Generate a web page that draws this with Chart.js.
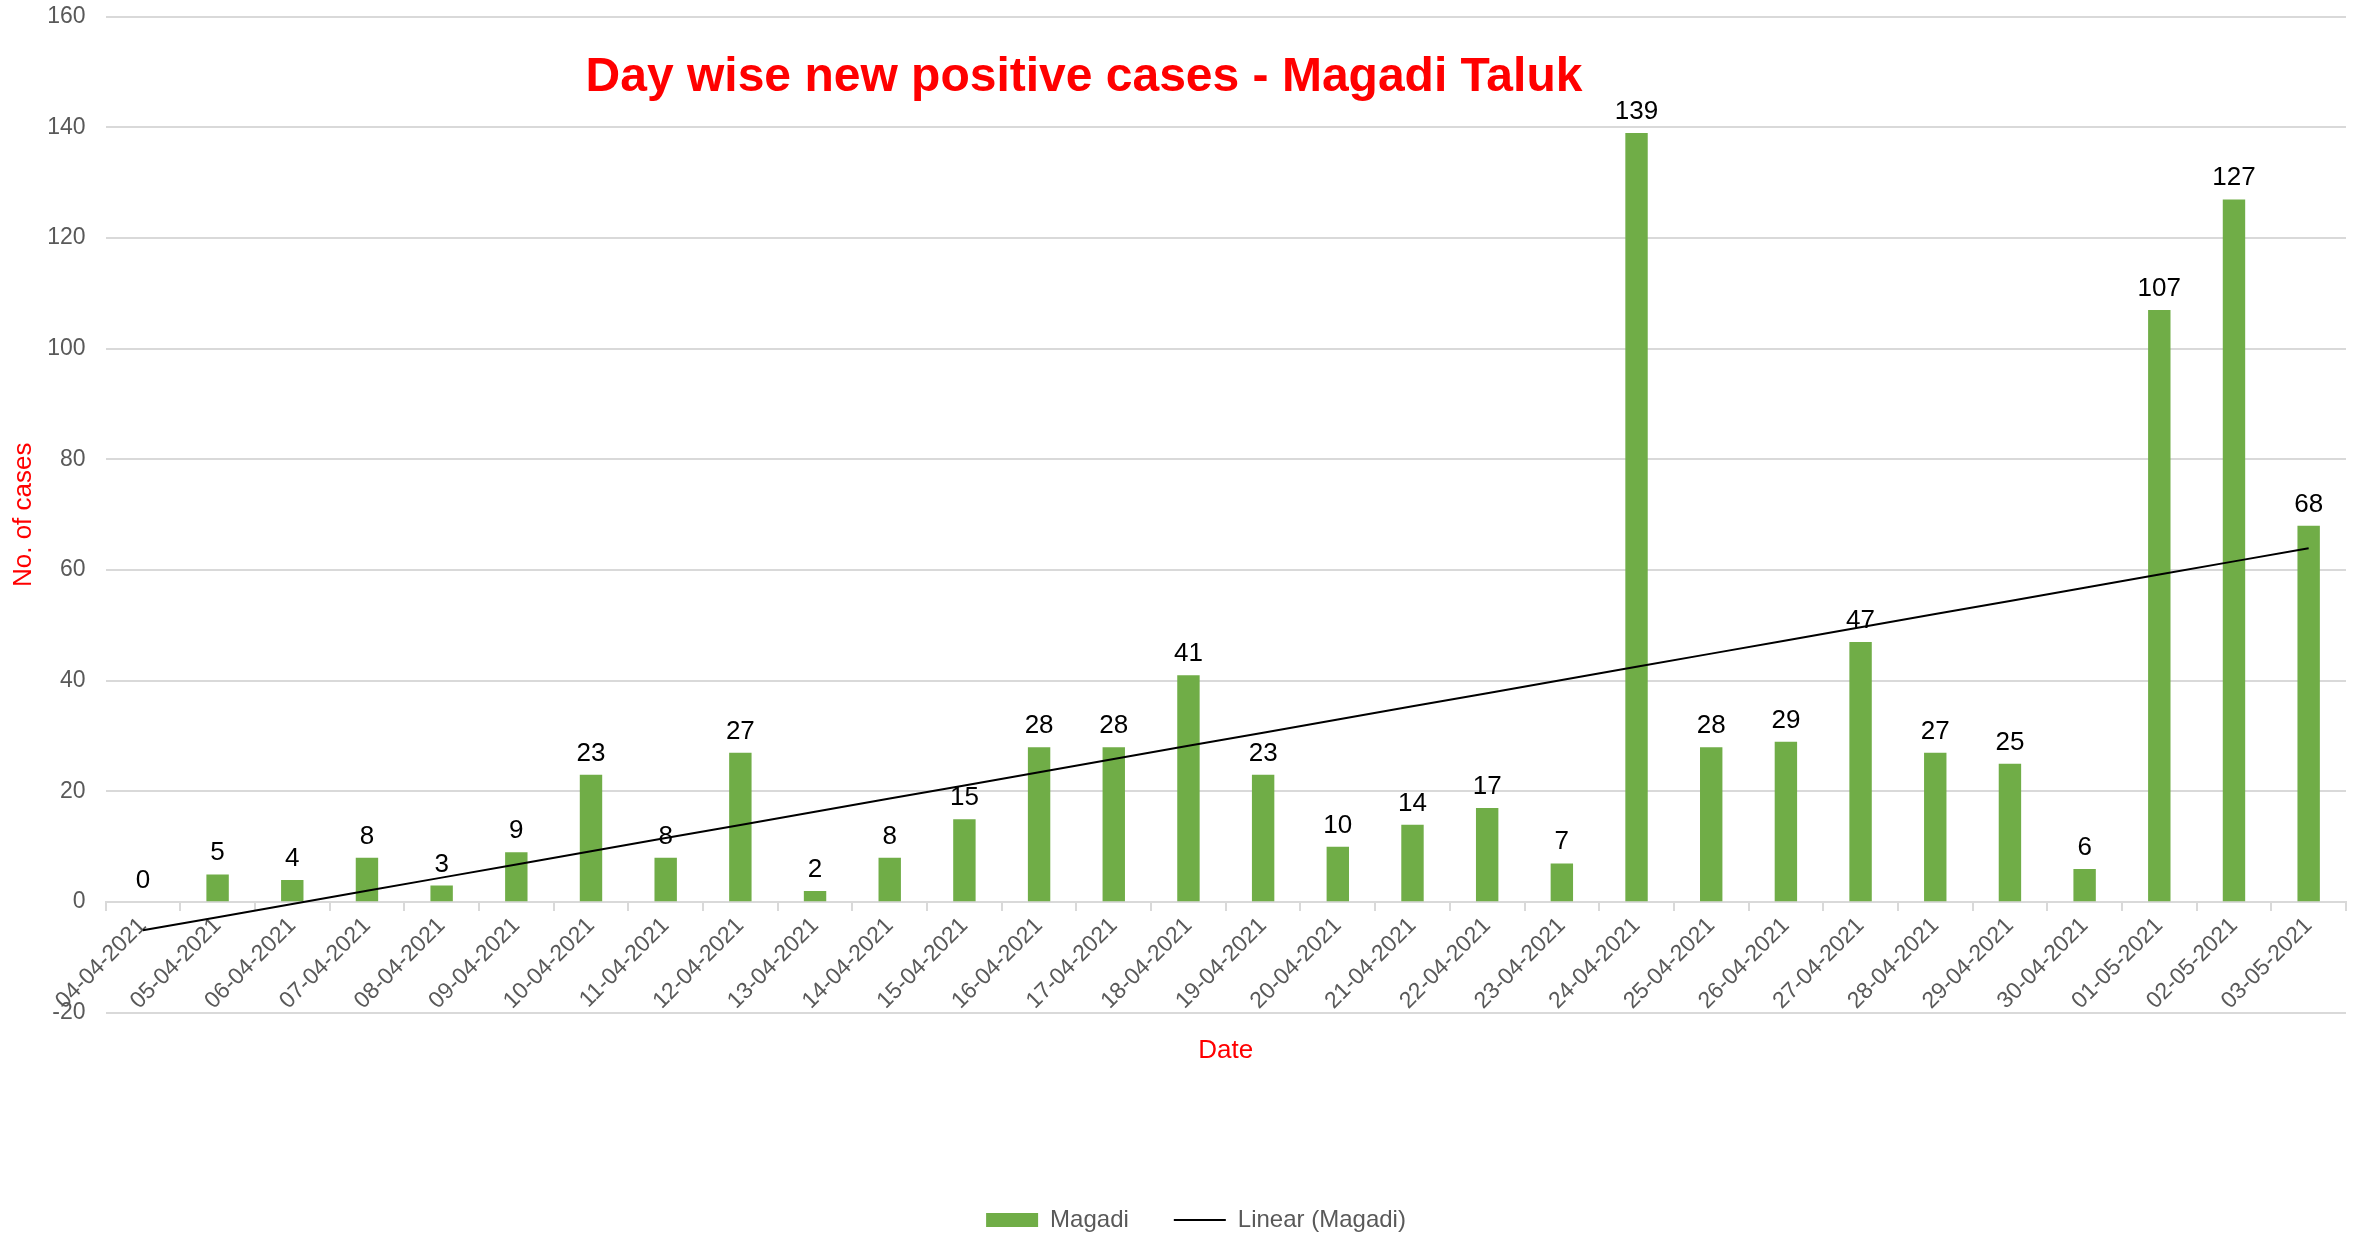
<!DOCTYPE html>
<html>
<head>
<meta charset="utf-8">
<script src="https://cdn.jsdelivr.net/npm/chart.js@4.4.0/dist/chart.umd.min.js"></script>
<style>
  body { margin: 0; background: #fff; }
  #wrap { width: 2358px; height: 1233px; }
</style>
</head>
<body>
<div id="wrap"><canvas id="chart" width="2358" height="1233"></canvas></div>
<script>
// dates on the category axis
const dates = [
    '04-04-2021', '05-04-2021', '06-04-2021', '07-04-2021', '08-04-2021', '09-04-2021',
    '10-04-2021', '11-04-2021', '12-04-2021', '13-04-2021', '14-04-2021', '15-04-2021',
    '16-04-2021', '17-04-2021', '18-04-2021', '19-04-2021', '20-04-2021', '21-04-2021',
    '22-04-2021', '23-04-2021', '24-04-2021', '25-04-2021', '26-04-2021', '27-04-2021',
    '28-04-2021', '29-04-2021', '30-04-2021', '01-05-2021', '02-05-2021', '03-05-2021'
];

// new positive cases per day (Magadi)
const cases = [0, 5, 4, 8, 3, 9, 23, 8, 27, 2, 8, 15, 28, 28, 41, 23, 10, 14, 17, 7,
    139, 28, 29, 47, 27, 25, 6, 107, 127, 68];

// y axis ticks
const yTicks = [-20, 0, 20, 40, 60, 80, 100, 120, 140, 160];

const FONT = '"Liberation Sans", Arial, sans-serif';

// Linear (Magadi): least squares fit of the bar values, like the spreadsheet trendline
function linearTrend(values) {
    const n = values.length;
    const mx = (n - 1) / 2;
    const my = values.reduce((a, b) => a + b, 0) / n;
    let sxy = 0, sxx = 0;
    values.forEach((v, i) => {
        sxy += (i - mx) * (v - my);
        sxx += (i - mx) * (i - mx);
    });
    const slope = sxy / sxx;
    return values.map((v, i) => my + slope * (i - mx));
}
const trend = linearTrend(cases);

// value labels above the bars
const valueLabels = {
    id: 'valueLabels',
    afterDatasetsDraw(chart) {
        const ctx = chart.ctx;
        const meta = chart.getDatasetMeta(0);
        ctx.save();
        ctx.font = '26px ' + FONT;
        ctx.fillStyle = '#000000';
        ctx.textAlign = 'center';
        ctx.textBaseline = 'alphabetic';
        meta.data.forEach((bar, i) => {
            ctx.fillText(String(cases[i]), bar.x, bar.y - 14);
        });
        ctx.restore();
    }
};

// chart title sits inside the plot area
const chartTitle = {
    id: 'chartTitle',
    afterDraw(chart) {
        const ctx = chart.ctx;
        ctx.save();
        ctx.font = 'bold 48px ' + FONT;
        ctx.fillStyle = '#ff0000';
        ctx.textAlign = 'center';
        ctx.textBaseline = 'middle';
        ctx.fillText('Day wise new positive cases - Magadi Taluk', 1084, 78);
        ctx.restore();
    }
};

const ctx = document.getElementById('chart').getContext('2d');

new Chart(ctx, {
    type: 'bar',
    data: {
        labels: dates,
        datasets: [{
            type: 'bar',
            label: 'Magadi',
            data: cases,
            backgroundColor: '#70ad47',
            borderWidth: 0,
            barPercentage: 0.3,
            categoryPercentage: 1,
            pointStyle: 'rect',
            order: 1
        }, {
            type: 'line',
            label: 'Linear (Magadi)',
            data: trend,
            borderColor: '#000000',
            backgroundColor: '#000000',
            borderWidth: 2,
            pointRadius: 0,
            pointStyle: 'line',
            fill: false,
            order: 0
        }]
    },
    options: {
        responsive: false,
        animation: false,
        layout: {
            // left padding keeps the legend centred where the original has it
            padding: { top: 0, right: 12, left: 46, bottom: -9 }
        },
        scales: {
            x: {
                position: { y: 0 },
                offset: true,
                grid: {
                    display: true,
                    drawOnChartArea: false,
                    color: '#d9d9d9',
                    lineWidth: 2,
                    tickLength: 8,
                    offset: true
                },
                border: { color: '#d9d9d9', width: 2 },
                ticks: {
                    color: '#595959',
                    font: { size: 23, family: FONT },
                    minRotation: 45,
                    maxRotation: 45,
                    autoSkip: false,
                    padding: 2
                }
            },
            xDate: {
                type: 'category',
                labels: dates,
                position: 'bottom',
                grid: { display: false, drawTicks: false },
                border: { display: false },
                ticks: { display: false },
                title: {
                    display: true,
                    text: 'Date',
                    color: '#ff0000',
                    font: { size: 26, family: FONT },
                    padding: { top: 22, bottom: 97 }
                }
            },
            y: {
                min: yTicks[0],
                max: yTicks[yTicks.length - 1],
                afterBuildTicks: axis => {
                    axis.ticks = yTicks.map(v => ({ value: v }));
                },
                grid: { color: '#d9d9d9', lineWidth: 2, tickLength: 17, tickColor: 'rgba(0,0,0,0)' },
                border: { display: false },
                ticks: {
                    color: '#595959',
                    font: { size: 23, family: FONT },
                    padding: 3
                },
                title: {
                    display: true,
                    text: 'No. of cases',
                    color: '#ff0000',
                    font: { size: 26, family: FONT },
                    padding: { top: -38, bottom: 5 }
                }
            }
        },
        plugins: {
            legend: {
                position: 'bottom',
                labels: {
                    usePointStyle: true,
                    pointStyleWidth: 52,
                    boxHeight: 14,
                    color: '#595959',
                    font: { size: 24, family: FONT },
                    padding: 45,
                    sort: (a, b) => a.datasetIndex - b.datasetIndex
                }
            },
            tooltip: { enabled: false }
        }
    },
    plugins: [valueLabels, chartTitle]
});
</script>
</body>
</html>
